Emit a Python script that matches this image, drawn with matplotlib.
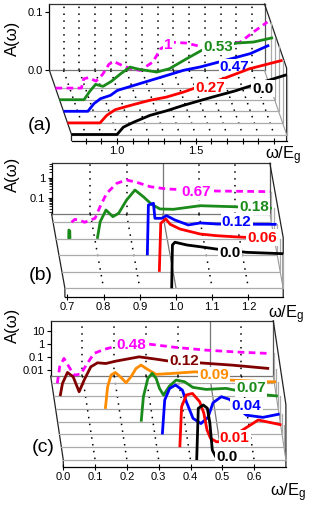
import numpy as np
import matplotlib
matplotlib.use('Agg')
import matplotlib.pyplot as plt
import matplotlib.transforms as mtransforms
from matplotlib.lines import Line2D

plt.rcParams['font.family'] = ['Liberation Sans', 'DejaVu Sans']
plt.rcParams['mathtext.default'] = 'regular'

nan = np.nan

# ---------------- panel (a) data : linear A ----------------
a_labels = ['0.0', '0.27', '0.47', '0.53', '1']
a_colors = ['black', '#ff0000', '#0000ff', '#1a8a1a', '#ff00ff']
a_w0 = [0.71, 1.0, 1.04, 1.104, 1.21, 1.317, 1.42, 1.53, 1.62, 1.75, 1.9, 2.02, 2.08]
a_A0 = [0, 0, 0.0126, 0.021, 0.033, 0.041, 0.050, 0.0586, 0.0655, 0.075, 0.088, 0.098, 0.103]
a_w1 = [0.71, 0.917, 0.96, 1.013, 1.087, 1.15, 1.235, 1.34, 1.447, 1.51, 1.7, 1.87, 2.08]
a_A1 = [0, 0, 0.013, 0.0227, 0.0284, 0.033, 0.039, 0.0445, 0.053, 0.059, 0.076, 0.0934, 0.108]
a_w2 = [0.71, 0.865, 0.904, 0.946, 1.01, 1.053, 1.16, 1.265, 1.37, 1.475, 1.58, 1.70, 1.90, 2.02]
a_A2 = [0, 0, 0.0132, 0.0218, 0.0276, 0.036, 0.0448, 0.0534, 0.062, 0.0707, 0.0764, 0.085, 0.0995, 0.114]
a_w3 = [0.71, 0.866, 0.904, 0.94, 0.987, 1.04, 1.10, 1.16, 1.22, 1.33, 1.41, 1.52, 1.615, 1.84, 1.945, 2.07]
a_A3 = [0, 0, 0.0149, 0.0264, 0.023, 0.0316, 0.0448, 0.0562, 0.0522, 0.0477, 0.0534, 0.0707, 0.085, 0.0977, 0.0994, 0.107]
a_w4 = [0.71, 0.875, 0.89, 0.92, 0.968, 1.01, 1.05, 1.08, 1.135, 1.19, 1.25, 1.33, 1.38, 1.46, 1.545, 1.63, 1.885, 1.97, 2.06]
a_A4 = [0, 0, 0.016, 0.018, 0.012, 0.0236, 0.041, 0.046, 0.039, 0.0334, 0.0305, 0.045, 0.068, 0.079, 0.0776, 0.072, 0.079, 0.0966, 0.114]
a_lab_w = [1.93, 1.62, 1.80, 1.72, 1.43]
a_lab_A = [0.079, 0.061, 0.076, 0.091, 0.074]
a_grid = [0.8, 0.9, 1.0, 1.1, 1.2, 1.3, 1.4, 1.5, 1.6, 1.7, 1.8, 1.9, 2.0]
a_xt_major = [1.0, 1.5]
a_xt_minor = [0.8, 0.9, 1.1, 1.2, 1.3, 1.4, 1.6, 1.7, 1.8, 1.9, 2.0]
a_yt = [0.0, 0.1]
a_ytl = ['0.0', '0.1']

# ---------------- panel (b) data : log A ----------------
b_labels = ['0.0', '0.06', '0.12', '0.18', '0.67']
b_colors = ['black', '#ff0000', '#0000ff', '#1a8a1a', '#ff00ff']
b_w0 = [0.988, 0.990, 0.997, 1.03, 1.066, 1.112, 1.195, 1.296]
b_A0 = [0, 2.4, 3.3, 2.4, 1.97, 1.5, 1.03, 0.88]
b_w1 = [0.962, 0.966, 0.98, 0.992, 1.019, 1.075, 1.12, 1.167, 1.286]
b_A1 = [0, 4.4, 7.2, 3.9, 2.26, 1.27, 1.05, 0.93, 0.72]
b_w2 = [0.937, 0.94, 0.954, 0.958, 0.977, 0.99, 1.0135, 1.05, 1.083, 1.13, 1.294]
b_A2 = [0, 5.4, 6.5, 1.16, 1.16, 1.57, 0.95, 0.54, 0.68, 0.60, 0.58]
b_w3 = [0.728, 0.7285, 0.731, 0.7315, nan, 0.807, 0.815, 0.831, 0.85, 0.866, 0.888, 0.911, 0.934, 0.957, 0.98, 1.017, 1.091, 1.183, 1.289]
b_A3 = [0, 0.045, 0.04, 0, nan, 0, 0.117, 0.45, 0.21, 0.31, 1.43, 4.5, 2.1, 0.87, 0.51, 0.49, 0.74, 0.66, 0.55]
b_w4 = [0.744, 0.753, 0.767, 0.78, 0.809, 0.823, 0.841, 0.869, 0.896, 0.924, 0.961, 1.007, 1.145, 1.292]
b_A4 = [0, 0.023, 0.021, 0, 0.026, 0.1, 0.46, 1.46, 2.14, 1.64, 0.99, 0.76, 0.60, 0.56]
b_lab_w = [1.149, 1.247, 1.184, 1.24, 1.088]
b_lab_A = [0.92, 0.83, 0.785, 0.66, 0.556]
b_grid_dot = [0.8, 0.9, 1.1, 1.2]
b_grid_solid = [1.0]
b_xt = [0.7, 0.8, 0.9, 1.0, 1.1, 1.2]
b_yt = [0.1, 1.0]
b_ytl = ['0.1', '1']

# ---------------- panel (c) data : log A ----------------
c_labels = ['0.0', '0.01', '0.04', '0.07', '0.09', '0.12', '0.48']
c_colors = ['black', '#ff0000', '#0000ff', '#1a8a1a', '#ff8c00', '#800000', '#ff00ff']
c_w0 = [0.4195, 0.4245, 0.44, 0.453, 0.461, 0.4686, 0.482, 0.50]
c_A0 = [0, 34, 62, 35, 2.4, 0.021, 0.0049, 0.0045]
c_w1 = [0.3725, 0.378, 0.393, 0.412, 0.435, 0.448, 0.458, 0.469, 0.488, 0.52, 0.545, 0.561, 0.619, 0.692]
c_A1 = [0, 4.7, 38, 50, 11.5, 1.48, 0.076, 0.0176, 0.0095, 0.01, 0.02, 0.056, 0.45, 0.19]
c_w2 = [0.3235, 0.331, 0.3465, 0.365, 0.3865, 0.399, 0.42, 0.445, 0.467, 0.483, 0.509, 0.535, 0.56, 0.588, 0.64, 0.6925]
c_A2 = [0, 1.6, 12.6, 23, 9.4, 1.19, 0.063, 0.025, 0.075, 1.0, 2.9, 1.8, 0.4, 0.11, 0.075, 0.135]
c_w3 = [0.263, 0.27, 0.284, 0.2975, 0.31, 0.3206, 0.3333, 0.352, 0.373, 0.399, 0.4255, 0.467, 0.53, 0.556, 0.661, 0.693]
c_A3 = [0, 0.3, 7.8, 18.8, 7.8, 1.32, 0.40, 2.0, 5.75, 4.3, 1.58, 1.1, 1.32, 0.98, 0.40, 0.34]
c_w4 = [0.1563, 0.1635, 0.1742, 0.1877, 0.2057, 0.2214, 0.237, 0.253, 0.2685, 0.289, 0.316, 0.368, 0.4415, 0.546, 0.666, 0.693]
c_A4 = [0, 0.18, 1.45, 2.3, 0.95, 0.37, 1.07, 4.7, 8.5, 4.0, 1.64, 1.95, 2.6, 0.6, 0.44, 0.44]
c_w5 = [0.0203, 0.0277, 0.0433, 0.0612, 0.080, 0.0957, 0.1167, 0.1377, 0.164, 0.1955, 0.2687, 0.321, 0.363, 0.4574, 0.562, 0.6775]
c_A5 = [0, 0.035, 0.24, 0.11, 0.0078, 0.062, 0.65, 1.32, 1.17, 1.78, 3.8, 2.54, 1.78, 1.32, 0.87, 0.48]
c_w6 = [0.0174, 0.0248, 0.0384, 0.054, 0.07, 0.0908, 0.1117, 0.1327, 0.164, 0.1956, 0.3057, 0.39, 0.484, 0.589, 0.683]
c_A6 = [0, 0.068, 0.3, 0.068, 0.0155, 0.0186, 0.123, 0.72, 1.48, 2.34, 3.76, 2.1, 1.3, 0.91, 0.72]
c_lab_w = [0.514, 0.545, 0.588, 0.609, 0.499, 0.41, 0.251]
c_lab_A = [0.0065, 0.0176, 0.556, 1.32, 1.45, 1.88, 3.16]
c_grid_dot = [0.1, 0.2, 0.3, 0.4, 0.6]
c_grid_solid = [0.5]
c_xt = [0.0, 0.1, 0.2, 0.3, 0.4, 0.5, 0.6]
c_yt = [0.01, 0.1, 1.0, 10.0]
c_ytl = ['0.01', '0.1', '1', '10']

# ---------------- figure / layout ----------------
W, H = 315, 518
fig = plt.figure(figsize=(W / 100, H / 100), dpi=100)


def rect(x0, x1, ytop, ybot):
    return [x0 / W, 1 - ybot / H, (x1 - x0) / W, (ybot - ytop) / H]


def build(spec, curves, labels, colors, lab_w, lab_A, grid_dot, grid_solid,
          xt_major, xt_minor, xtl, yt, ytl, dashed_idx):
    x0, x1 = spec['x0'], spec['x1']
    axis_y, floor_y = spec['axis_y'], spec['floor_y']
    log, ppu, fv = spec['log'], spec['ppu'], spec['fv']
    sdx, sdy = spec['sdx'], spec['sdy']
    nw = spec['nwall']
    wall_top_y = spec['wall_top_y']
    xlim = spec['xlim']

    def val(ypix, base):
        d = (base - ypix) / ppu
        return 10 ** (np.log10(fv) + d) if log else fv + d

    wall_bot_y = floor_y - nw * sdy
    top_val = val(wall_top_y, wall_bot_y)
    front_top_y = wall_top_y + nw * sdy

    # wall axes (back plane)
    axw = fig.add_axes(rect(x0 + nw * sdx, x1 + nw * sdx, wall_top_y, wall_bot_y))
    axw.set_zorder(0)
    axw.patch.set_visible(False)
    if log:
        axw.set_yscale('log')
    axw.set_xlim(xlim)
    axw.set_ylim(fv, top_val)
    axw.set_xticks([])
    axw.set_yticks(yt)
    axw.set_yticklabels(ytl)
    if not log:
        axw.set_yticks([], minor=True)
    axw.tick_params(axis='y', which='major', direction='out', length=3, width=0.8,
                    labelsize=8, pad=1.5)
    axw.tick_params(axis='y', which='minor', direction='out', length=2, width=0.6)
    axw.spines['left'].set_color('black')
    axw.spines['top'].set_color('#333333')
    axw.spines['right'].set_color('#555555')
    axw.spines['bottom'].set_color('#777777')
    for sp in axw.spines.values():
        sp.set_linewidth(0.9)
    for g in grid_dot:
        axw.axvline(g, color='black', lw=1.1, ls=(0, (1, 3.5)), zorder=1)
    for g in grid_solid:
        axw.axvline(g, color='#777777', lw=0.9, zorder=1)

    # front axes (front plane)
    ax = fig.add_axes(rect(x0, x1, front_top_y, axis_y))
    ax.set_zorder(1)
    ax.patch.set_visible(False)
    if log:
        ax.set_yscale('log')
    ax.set_xlim(xlim)
    ax.set_ylim(val(axis_y, floor_y), val(front_top_y, floor_y))
    ax.set_autoscale_on(False)
    for s in ['left', 'right', 'top']:
        ax.spines[s].set_visible(False)
    ax.spines['bottom'].set_linewidth(0.9)
    ax.set_yticks([])
    ax.set_yticks([], minor=True)
    ax.set_xticks(xt_major)
    ax.set_xticklabels(xtl)
    ax.set_xticks(xt_minor, minor=True)
    ax.tick_params(axis='x', which='both', direction='inout', length=4, width=0.8,
                   labelsize=8, pad=2)

    def off(k):
        return mtransforms.ScaledTranslation(k * sdx / 100, k * sdy / 100,
                                             fig.dpi_scale_trans)

    inv = ax.transAxes.inverted()

    def P(x, y, k):
        return (ax.transData + off(k)).transform((x, y))

    def seg(pts, **kw):
        f = inv.transform(np.array(pts))
        ax.add_line(Line2D(f[:, 0], f[:, 1], transform=ax.transAxes,
                           clip_on=False, **kw))

    ybot = val(axis_y, floor_y)
    # box edges
    seg([P(xlim[0], fv, nw), P(xlim[0], fv, 0), P(xlim[0], ybot, 0)],
        color='#222222', lw=0.9, zorder=1)
    seg([P(xlim[1], top_val, nw), P(xlim[1], top_val, 0), P(xlim[1], ybot, 0)],
        color='#222222', lw=0.9, zorder=1)
    seg([P(xlim[1], fv, nw), P(xlim[1], fv, 0)], color='#999999', lw=0.8, zorder=1)
    # floor grid lines
    for g in grid_dot:
        seg([P(g, fv, nw), P(g, fv, 0)], color='black', lw=1.1,
            ls=(0, (1, 3.5)), zorder=1)
    for g in grid_solid:
        seg([P(g, fv, nw), P(g, fv, 0)], color='#777777', lw=0.9, zorder=1)

    n = len(curves)
    # depth planes
    for k in range(n):
        w, A = curves[k]
        A = np.asarray(A, float)
        last = A[~np.isnan(A)][-1]
        ax.plot([xlim[0], xlim[1], xlim[1]], [fv, fv, max(last, fv)],
                transform=ax.transData + off(k), color='#aaaaaa', lw=0.9,
                clip_on=False, zorder=1.5)

    # curves from back to front
    for k in range(n - 1, -1, -1):
        w, A = curves[k]
        A = np.asarray(A, float)
        if log:
            A = np.where(np.isnan(A), np.nan, np.maximum(A, fv))
        z = 3 + 2 * (n - k)
        ls = (0, (2.4, 1.6)) if k == dashed_idx else '-'
        ax.plot(w, A, transform=ax.transData + off(k), color=colors[k], lw=2.0,
                ls=ls, clip_on=False, zorder=z, solid_capstyle='butt')
        ax.text(lab_w[k], lab_A[k], labels[k], transform=ax.transData + off(k),
                ha='center', va='center', color=colors[k], fontsize=11,
                fontweight='bold', zorder=z + 1, clip_on=False,
                bbox=dict(boxstyle='square,pad=0.08', fc='white', ec='none'))
    return ax


spec_a = dict(x0=71.5, x1=286.6, axis_y=140.5, floor_y=134.5, log=False, ppu=580.0,
              fv=0.0, sdx=-4.0, sdy=11.6, nwall=5.52, wall_top_y=4.0, xlim=(0.71, 2.08))
spec_b = dict(x0=64.9, x1=283.2, axis_y=296.7, floor_y=288.3, log=True, ppu=20.0,
              fv=10 ** -1.785, sdx=-2.96, sdy=16.5, nwall=4.5, wall_top_y=163.3,
              xlim=(0.693, 1.296))
spec_c = dict(x0=63.3, x1=285.9, axis_y=466.7, floor_y=460.0, log=True, ppu=13.0,
              fv=10 ** -2.44, sdx=-1.92, sdy=12.78, nwall=6.57, wall_top_y=320.7,
              xlim=(0.0, 0.70))

build(spec_a,
      [(a_w0, a_A0), (a_w1, a_A1), (a_w2, a_A2), (a_w3, a_A3), (a_w4, a_A4)],
      a_labels, a_colors, a_lab_w, a_lab_A, a_grid, [],
      a_xt_major, a_xt_minor, ['1.0', '1.5'], a_yt, a_ytl, 4)
build(spec_b,
      [(b_w0, b_A0), (b_w1, b_A1), (b_w2, b_A2), (b_w3, b_A3), (b_w4, b_A4)],
      b_labels, b_colors, b_lab_w, b_lab_A, b_grid_dot, b_grid_solid,
      b_xt, [], ['0.7', '0.8', '0.9', '1.0', '1.1', '1.2'], b_yt, b_ytl, 4)
build(spec_c,
      [(c_w0, c_A0), (c_w1, c_A1), (c_w2, c_A2), (c_w3, c_A3), (c_w4, c_A4),
       (c_w5, c_A5), (c_w6, c_A6)],
      c_labels, c_colors, c_lab_w, c_lab_A, c_grid_dot, c_grid_solid,
      c_xt, [], ['0.0', '0.1', '0.2', '0.3', '0.4', '0.5', '0.6'], c_yt, c_ytl, 6)


def ftext(x, y, s, **kw):
    fig.text(x / W, 1 - y / H, s, ha='center', va='center', **kw)


for (x, y) in [(12, 38), (12, 174), (12, 325)]:
    ftext(x, y, 'A(ω)', fontsize=12, rotation=90)
for (x, y), s in zip([(40, 126), (41, 275), (43, 447)], ['(a)', '(b)', '(c)']):
    ftext(x, y, s, fontsize=14)
for (x, y) in [(283, 156), (286, 315), (288, 493)]:
    ftext(x, y, r'$\mathregular{\omega/E_g}$', fontsize=12)

fig.savefig('out.png', dpi=100)
